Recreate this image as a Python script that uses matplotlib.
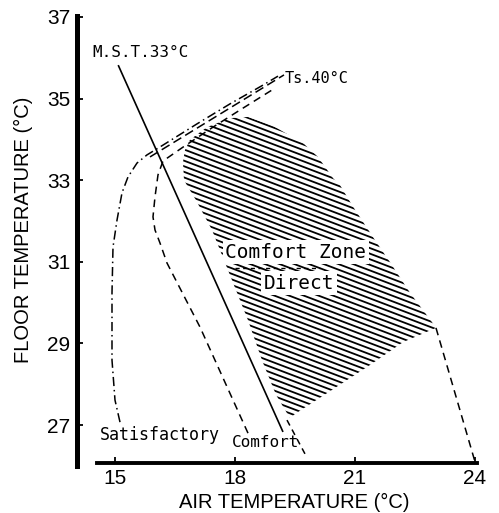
import numpy as np
import matplotlib
matplotlib.use('Agg')
import matplotlib.pyplot as plt
from matplotlib.patches import Polygon
from matplotlib.collections import LineCollection

# ---- data (air temp, floor temp) ----
mst_x = [15.08, 19.2]
mst_y = [35.82, 26.83]

satis_x = [15.125, 15.0, 14.925, 14.925, 14.95, 15.05, 15.175, 15.325, 15.55, 15.80,
           16.20, 17.05, 17.875, 18.70, 19.075]
satis_y = [27.07, 27.61, 28.59, 30.24, 31.36, 32.02, 32.69, 33.08, 33.42, 33.62,
           33.86, 34.38, 34.87, 35.33, 35.55]

comf_x = [18.325, 17.125, 16.30, 16.125, 16.0, 15.95, 16.0, 16.075, 16.20, 16.70,
          17.45, 18.125, 18.925]
comf_y = [26.80, 29.40, 30.97, 31.46, 31.78, 32.10, 32.59, 33.13, 33.47, 33.81,
          34.30, 34.72, 35.21]

ts40_x = [15.875, 19.225]
ts40_y = [33.57, 35.58]

zone_x = [16.75, 16.875, 17.30, 17.875, 18.325, 18.95, 19.70, 20.075, 20.45, 20.625,
          20.925, 21.50, 21.875, 22.375, 22.925, 23.025, 22.20, 21.375, 20.30, 19.50,
          19.375, 19.025, 18.675, 18.325, 17.925, 17.425, 17.025, 16.725, 16.70]
zone_y = [33.74, 33.99, 34.30, 34.52, 34.55, 34.33, 33.91, 33.57, 33.05, 32.88,
          32.39, 31.53, 30.99, 30.24, 29.52, 29.38, 29.03, 28.47, 27.78, 27.27,
          27.17, 27.74, 28.59, 29.57, 30.55, 31.78, 32.51, 33.00, 33.45]

right_x = [23.025, 24.0]
right_y = [29.38, 26.1]
tip_x = [19.3, 19.8]
tip_y = [27.12, 26.2]

sep_x = [17.99, 20.125]
sep_y = [30.85, 30.85]

xticks = [15, 18, 21, 24]
yticks = [27, 29, 31, 33, 35, 37]

fig = plt.figure(figsize=(4.99, 5.13), dpi=100)
ax = fig.add_axes([0.1503, 0.092, 0.8176, 0.8749])
ax.set_xlim(14.0, 24.2)
ax.set_ylim(26.0, 37.0)

mono = 'DejaVu Sans Mono'

# hatched comfort zone
poly = Polygon(np.column_stack([zone_x, zone_y]), closed=True, fc='none', ec='none')
ax.add_patch(poly)
slope = -0.3725
segs = []
for c in np.arange(26.0, 42.0, 0.137):
    segs.append([(14.0, c), (24.5, c + slope * 10.5)])
hatch = LineCollection(segs, colors='black', linewidths=1.3)
ax.add_collection(hatch)
hatch.set_clip_path(poly)

ax.plot(mst_x, mst_y, color='black', lw=1.2, solid_capstyle='butt')
ax.plot(satis_x, satis_y, color='black', lw=1.1, dashes=(6, 2.5, 1, 2.5))
ax.plot(comf_x, comf_y, color='black', lw=1.1, dashes=(5, 3.5))
ax.plot(ts40_x, ts40_y, color='black', lw=1.1, dashes=(6, 3))
ax.plot(right_x, right_y, color='black', lw=1.1, dashes=(5, 3.5))
ax.plot(tip_x, tip_y, color='black', lw=1.1, dashes=(4, 3))

ax.text(14.425, 36.14, 'M.S.T.33°C', family=mono, fontsize=11.5, ha='left', va='center')
ax.text(19.25, 35.50, 'Ts.40°C', family=mono, fontsize=11, ha='left', va='center')
ax.text(19.525, 31.24, 'Comfort Zone', family=mono, fontsize=14, ha='center', va='center',
        bbox=dict(fc='white', ec='none', pad=2))
ax.text(19.6, 30.48, 'Direct', family=mono, fontsize=14, ha='center', va='center',
        bbox=dict(fc='white', ec='none', pad=2))
ax.plot(sep_x, sep_y, color='black', lw=1.0, dashes=(3, 2.5))
ax.text(16.125, 26.75, 'Satisfactory', family=mono, fontsize=12, ha='center', va='center')
ax.text(18.76, 26.58, 'Comfort', family=mono, fontsize=11.5, ha='center', va='center')

for s in ['top', 'right']:
    ax.spines[s].set_visible(False)
ax.spines['left'].set_position(('data', 14.05))
ax.spines['left'].set_bounds(26.0, 37.02)
ax.spines['left'].set_linewidth(3.6)
ax.spines['bottom'].set_position(('data', 26.08))
ax.spines['bottom'].set_bounds(14.55, 24.05)
ax.spines['bottom'].set_linewidth(2.8)

ax.set_xticks(xticks)
ax.set_yticks(yticks)
ax.tick_params(direction='in', length=4, width=1.3, labelsize=15, pad=5)
for lab in ax.get_xticklabels() + ax.get_yticklabels():
    lab.set_family('Liberation Sans')

fig.text(0.048, 0.552, 'FLOOR TEMPERATURE (°C)', rotation=90, ha='center', va='center',
         family='Liberation Sans', fontsize=14.5)
fig.text(0.590, 0.0214, 'AIR TEMPERATURE (°C)', ha='center', va='center',
         family='Liberation Sans', fontsize=14.5)

fig.savefig('out.png', dpi=100)
